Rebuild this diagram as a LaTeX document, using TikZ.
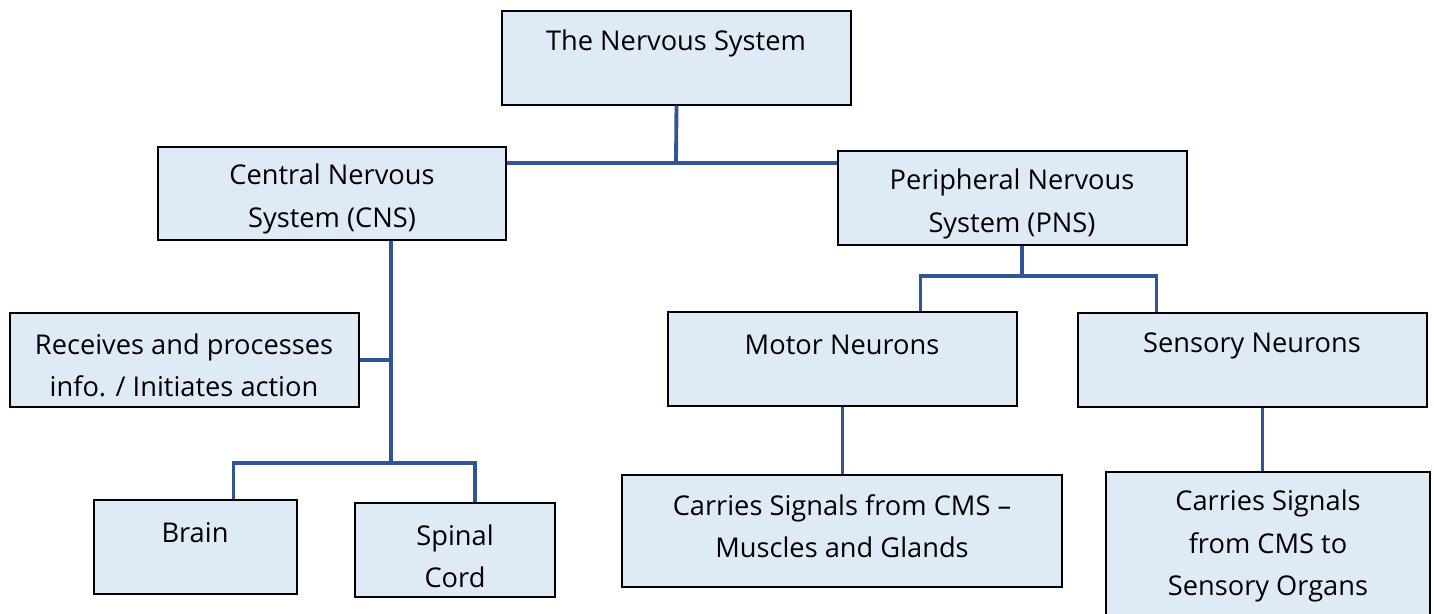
\documentclass[tikz,border=0pt]{standalone}
\usepackage{fontspec}
\setmainfont{Open Sans}
\usepackage{xcolor}
\usepackage{tikz}
\usetikzlibrary{positioning,fit,calc}
\definecolor{boxfill}{RGB}{222, 235, 247}
\definecolor{linkblue}{RGB}{47, 85, 151}

\begin{document}
\begin{tikzpicture}[x=0.02cm, y=-0.02cm,
    box/.style={draw=black, line width=0.8pt, fill=boxfill, inner sep=0pt},
    txt/.style={align=center, font=\fontsize{15.5}{24}\selectfont},
    link/.style={draw=linkblue, line width=2.2pt}]
  \useasboundingbox (0,0) rectangle (1434,613);

  % Boxes
  \node[box, fit={(502,11) (851,105)}] (top) {};
  \node[box, fit={(158,147) (506,240)}] (cns) {};
  \node[box, fit={(838,151) (1187,245)}] (pns) {};
  \node[box, fit={(10,313) (359,407)}] (recv) {};
  \node[box, fit={(94,500) (297,594)}] (brain) {};
  \node[box, fit={(355,503) (555,597)}] (spinal) {};
  \node[box, fit={(668,312) (1017,406)}] (motor) {};
  \node[box, fit={(1078,313) (1427,407)}] (sensory) {};
  \node[box, fit={(622,475) (1062,587)}] (motorsig) {};
  \node[box, fit={(1106,472) (1430,640)}] (sensorysig) {};

  % Texts
  \node[txt] (topt) at (676,43) {The Nervous System};
  \node[txt] (cnst) at (332,199) {Central Nervous\\System (CNS)};
  \node[txt] (pnst) at (1012,204) {Peripheral Nervous\\System (PNS)};
  \node[txt] (recvt) at (184,365) {Receives and processes\\info. / Initiates action};
  \node[txt] (braint) at (195,533) {Brain};
  \node[txt] (spinalt) at (455,556) {Spinal\\Cord};
  \node[txt] (motort) at (842,345) {Motor Neurons};
  \node[txt] (sensoryt) at (1252,346) {Sensory Neurons};
  \node[txt] (motorsigt) at (842,526) {Carries Signals from CMS --\\Muscles and Glands};
  \node[txt] (sensorysigt) at (1268,546) {Carries Signals\\from CMS to\\Sensory Organs};

  % Junctions
  \coordinate (j1) at (676,163);
  \coordinate (cnsx) at (391,0);
  \coordinate (j2) at (391,463);
  \coordinate (j3) at (1022,276);

  % Connectors
  \draw[link] (top.south) -- (j1);
  \draw[link] (cns.east |- j1) -- (pns.west |- j1);
  \draw[link] (cnsx |- cns.south) -- (j2);
  \draw[link] (recv.east) -- (recv.east -| cnsx);
  \draw[link] ($(brain.north)+(38,0)$) |- (j2) -| ($(spinal.north)+(20,0)$);
  \draw[link] (pns.south -| j3) -- (j3);
  \draw[link] ($(motor.north)+(78,0)$) |- (j3) -| ($(sensory.north)+(-96,0)$);
  \draw[link] (motor.south) -- (motor.south |- motorsig.north);
  \draw[link] ($(sensory.south)+(10,0)$) -- ($(sensory.south |- sensorysig.north)+(10,0)$);
\end{tikzpicture}
\end{document}
